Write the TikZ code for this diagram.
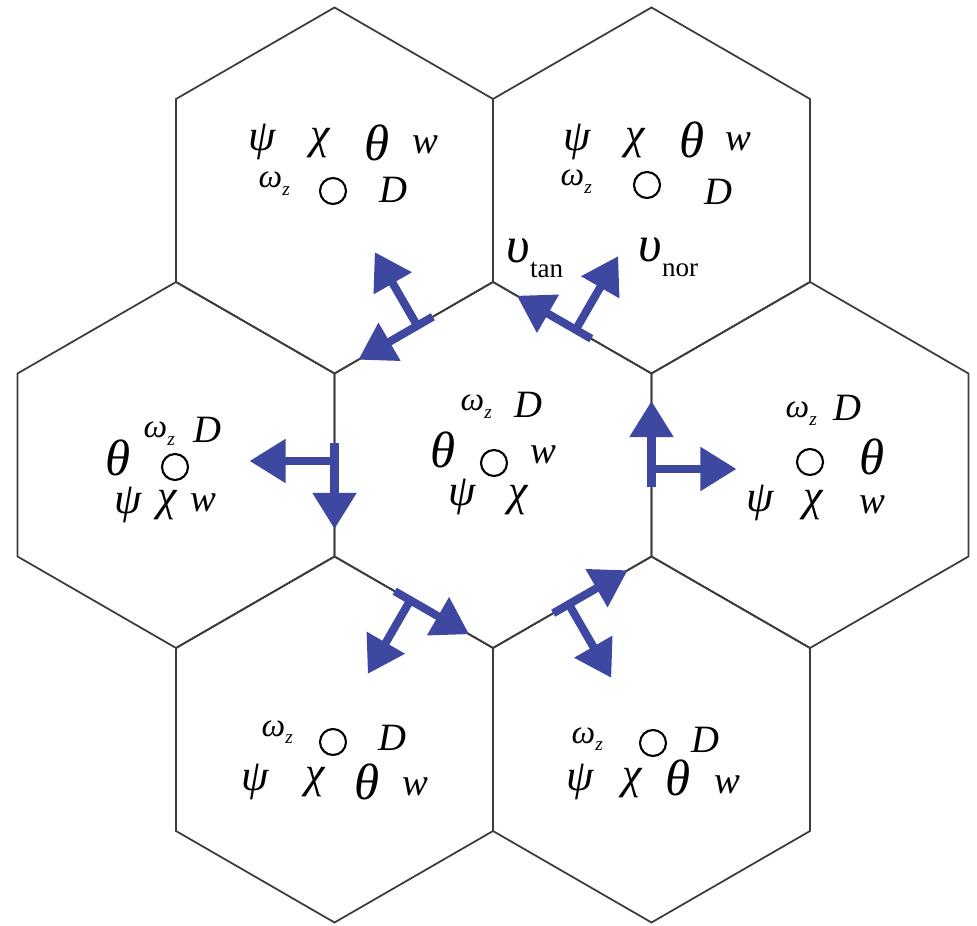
\documentclass[tikz,border=0pt]{standalone}
\usepackage{fontspec}
\setmainfont{Liberation Serif}
\usetikzlibrary{arrows.meta, calc}
\definecolor{fluxblue}{RGB}{62,72,160}
\definecolor{edgegray}{RGB}{60,60,60}

\begin{document}
\begin{tikzpicture}[x=0.01cm, y=0.01cm,
    cell/.style={draw=edgegray, line width=0.5pt},
    flux/.style={draw=fluxblue, line width=2.3pt, -{Triangle[length=3.6mm, width=4.2mm]}},
    site/.style={circle, draw, line width=0.6pt, minimum size=0.26cm, inner sep=0},
    var/.style={inner sep=0, font=\itshape\fontsize{11}{13}\selectfont},
    grk/.style={inner sep=0, font=\itshape\fontsize{12.5}{14}\selectfont},
    bigvar/.style={inner sep=0, font=\itshape\fontsize{14.5}{16}\selectfont},
    vort/.style={inner sep=0, anchor=base west, font=\itshape\fontsize{9.5}{11}\selectfont},
    vel/.style={inner sep=0, anchor=base west, font=\itshape\fontsize{14.5}{16}\selectfont}]
  \useasboundingbox (0,0) rectangle (977,925);
  \def\R{183}
  \newcommand{\wz}{ω\raisebox{-2pt}{\fontsize{5.5}{6}\selectfont z}}

  % ===== Cells =====
  \coordinate (hc) at (493,460);
  \foreach \n/\a in {r/0, tr/60, tl/120, l/180, bl/240, br/300}
    \coordinate (h\n) at ($(hc)+(\a:316.97)$);
  \foreach \n in {c, r, tr, tl, l, bl, br}
    \draw[cell] ($(h\n)+(90:\R)$) -- ++(210:\R) -- ++(270:\R) -- ++(330:\R)
      -- ++(30:\R) -- ++(90:\R) -- cycle;

  % ===== Edge velocities =====
  \foreach \a in {0, 60, ..., 300} {
    \coordinate (m\a) at ($(hc)+(\a:158.48)$);
    \coordinate (ts\a) at ($(m\a)+(\a+90:-22)$);
    \coordinate (te\a) at ($(m\a)+(\a+90:64)$);
    \coordinate (ns\a) at ($(m\a)+(\a+90:-4)$);
    \coordinate (ne\a) at ($(ns\a)+(\a:85)$);
    \draw[flux] (ts\a) -- (te\a);
    \draw[flux] (ns\a) -- (ne\a);
  }
  \node[vel] (vtan) at (506,662) {υ\raisebox{-4pt}{\upshape\fontsize{7.7}{9}\selectfont tan}};
  \node[vel] (vnor) at (638,663) {υ\raisebox{-4pt}{\upshape\fontsize{7.7}{9}\selectfont nor}};

  % ===== Top-left cell =====
  \node[grk] (tl-psi) at (262,783) {ψ};
  \node[grk] (tl-chi) at (320,782) {χ};
  \node[bigvar] (tl-th) at (377,782) {θ};
  \node[var] (tl-w) at (425,780) {w};
  \node[vort] (tl-om) at (258,737) {\wz};
  \node[site] (tl-s) at (333,734) {};
  \node[var] (tl-D) at (393,735) {D};

  % ===== Top-right cell =====
  \node[grk] (tr-psi) at (577,783) {ψ};
  \node[grk] (tr-chi) at (635,782) {χ};
  \node[bigvar] (tr-th) at (692,785) {θ};
  \node[var] (tr-w) at (738,783) {w};
  \node[vort] (tr-om) at (560,739) {\wz};
  \node[site] (tr-s) at (647,740) {};
  \node[var] (tr-D) at (718,733) {D};

  % ===== Centre cell =====
  \node[vort] (c-om) at (460,514) {\wz};
  \node[var] (c-D) at (528,520) {D};
  \node[bigvar] (c-th) at (443,475) {θ};
  \node[site] (c-s) at (494,462) {};
  \node[var] (c-w) at (543,470) {w};
  \node[grk] (c-psi) at (462,428) {ψ};
  \node[grk] (c-chi) at (518,425) {χ};

  % ===== Left cell =====
  \node[bigvar] (l-th) at (118,467) {θ};
  \node[vort] (l-om) at (143,487) {\wz};
  \node[var] (l-D) at (207,495) {D};
  \node[site] (l-s) at (175,458) {};
  \node[grk] (l-psi) at (128,420) {ψ};
  \node[grk] (l-chi) at (167,420) {χ};
  \node[var] (l-w) at (203,422) {w};

  % ===== Right cell =====
  \node[vort] (r-om) at (785,507) {\wz};
  \node[var] (r-D) at (847,517) {D};
  \node[site] (r-s) at (810,463) {};
  \node[bigvar] (r-th) at (872,468) {θ};
  \node[grk] (r-psi) at (760,422) {ψ};
  \node[grk] (r-chi) at (813,420) {χ};
  \node[var] (r-w) at (872,420) {w};

  % ===== Bottom-left cell =====
  \node[vort] (bl-om) at (261,189) {\wz};
  \node[site] (bl-s) at (333,183) {};
  \node[var] (bl-D) at (392,187) {D};
  \node[grk] (bl-psi) at (255,143) {ψ};
  \node[grk] (bl-chi) at (315,143) {χ};
  \node[bigvar] (bl-th) at (367,143) {θ};
  \node[var] (bl-w) at (415,138) {w};

  % ===== Bottom-right cell =====
  \node[vort] (br-om) at (571,182) {\wz};
  \node[site] (br-s) at (653,182) {};
  \node[var] (br-D) at (705,185) {D};
  \node[grk] (br-psi) at (580,143) {ψ};
  \node[grk] (br-chi) at (632,142) {χ};
  \node[bigvar] (br-th) at (678,147) {θ};
  \node[var] (br-w) at (727,140) {w};
\end{tikzpicture}
\end{document}
